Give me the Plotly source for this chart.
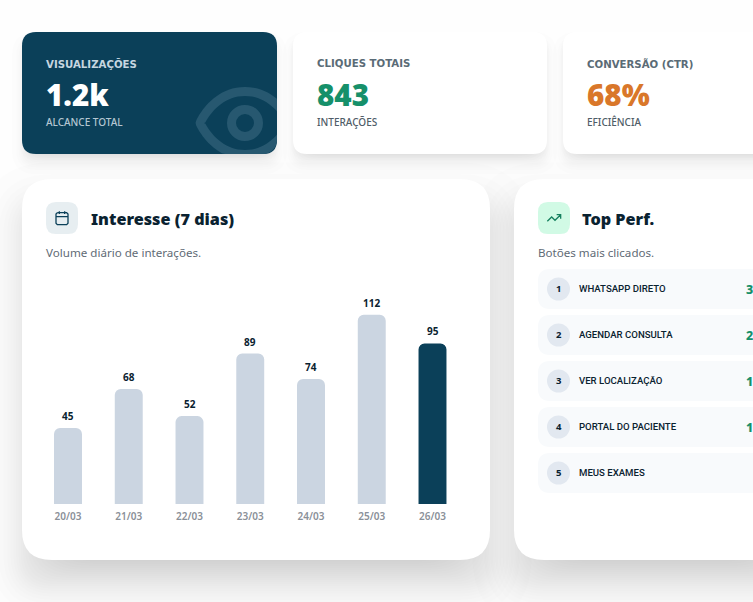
from statistics import NormalDist

import numpy as np
import plotly.graph_objects as go

W = 753
H = 602

# chart data
days = ["20/03", "21/03", "22/03", "23/03", "24/03", "25/03", "26/03"]
clicks = [45, 68, 52, 89, 74, 112, 95]
bar_colors = ["#cbd5e1"] * 6 + ["#0b4059"]

# kpi cards
kpi_titles = ["VISUALIZAÇÕES", "CLIQUES TOTAIS", "CONVERSÃO (CTR)"]
kpi_values = ["1.2k", "843", "68%"]
kpi_notes = ["ALCANCE TOTAL", "INTERAÇÕES", "EFICIÊNCIA"]

# ranking, only the first digit of the counts is inside the picture
rank_labels = ["WHATSAPP DIRETO", "AGENDAR CONSULTA", "VER LOCALIZAÇÃO", "PORTAL DO PACIENTE", "MEUS EXAMES"]
rank_counts = ["3", "2", "1", "1", ""]

FONT = "Noto Sans"
INK = "#0a2230"
GREY = "#5f6b76"


def px(x):
    return x / W


def py(y):
    return 1 - y / H


def rounded(x0, y0, x1, y1, r):
    return (
        f"M{px(x0 + r)},{py(y0)} L{px(x1 - r)},{py(y0)} Q{px(x1)},{py(y0)} {px(x1)},{py(y0 + r)} "
        f"L{px(x1)},{py(y1 - r)} Q{px(x1)},{py(y1)} {px(x1 - r)},{py(y1)} "
        f"L{px(x0 + r)},{py(y1)} Q{px(x0)},{py(y1)} {px(x0)},{py(y1 - r)} "
        f"L{px(x0)},{py(y0 + r)} Q{px(x0)},{py(y0)} {px(x0 + r)},{py(y0)} Z"
    )


shapes = []
notes = []


def box(x0, y0, x1, y1, r, color):
    shapes.append(dict(type="path", path=rounded(x0, y0, x1, y1, r), xref="paper", yref="paper",
                       fillcolor=color, line_width=0, layer="below"))


def shadow(x0, y0, x1, y1, r, dy, blur, spread, alpha):
    # css box-shadow faked with equal see-through layers at gaussian steps
    step = 2 / 255
    n = round(alpha / step)
    for i in range(n):
        e = spread + blur / 2 * NormalDist().inv_cdf(1 - (i + 0.5) / n)
        shapes.append(dict(type="path", path=rounded(x0 - e, y0 + dy - e, x1 + e, y1 + dy + e, max(r + abs(e), 6)),
                           xref="paper", yref="paper", fillcolor="#000000", opacity=step,
                           line_width=0, layer="below"))


def label(x, y, text, size, color, weight=400, family=FONT, anchor="left"):
    notes.append(dict(x=px(x), y=py(y), xref="paper", yref="paper", text=text, showarrow=False,
                      xanchor=anchor, yanchor="middle", borderpad=0, xshift=-1 if anchor == "left" else 0,
                      font=dict(family=family, size=size, color=color, weight=weight)))


def icon(cx, cy, size, lines, color, width):
    s = size / 24
    parts = []
    for line in lines:
        pts = [f"{px(cx + (a - 12) * s)},{py(cy + (b - 12) * s)}" for a, b in line]
        parts.append("M" + " L".join(pts))
    shapes.append(dict(type="path", path=" ".join(parts), xref="paper", yref="paper",
                       line=dict(color=color, width=width), layer="below"))


def eye_ring(cx, cy, s, clip):
    # lucide eye outline, thickened and cut to the card
    t = np.linspace(0, 1, 24)[:, None]
    p0, p1, p2, p3 = map(np.array, ([-10.0, 0], [-10.0, 0], [-7.0, -7], [0.0, -7]))
    curve = (1 - t) ** 3 * p0 + 3 * (1 - t) ** 2 * t * p1 + 3 * (1 - t) * t ** 2 * p2 + t ** 3 * p3
    quarter = curve[1:]
    top = np.vstack([quarter, quarter[::-1][1:] * [-1, 1]])
    loop = np.vstack([top, top[::-1][1:-1] * [1, -1]])
    d = np.roll(loop, -1, axis=0) - np.roll(loop, 1, axis=0)
    n = np.column_stack([d[:, 1], -d[:, 0]]) / np.hypot(d[:, 0], d[:, 1])[:, None]
    out = []
    for sign in (1, -1):
        ring = (loop + sign * n * 1.0) * s + [cx, cy]
        out.append(clip(ring))
    return out


def poly(points):
    return "M" + " L".join(f"{px(a)},{py(b)}" for a, b in points) + " Z"


def circle(cx, cy, r, color):
    shapes.append(dict(type="circle", xref="paper", yref="paper", x0=px(cx - r), x1=px(cx + r),
                       y0=py(cy - r), y1=py(cy + r), fillcolor=color, line_width=0, layer="below"))


# kpi cards
for x0, x1 in [(22, 277), (293, 547), (563, 800)]:
    shadow(x0, 32, x1, 154, 14, 10, 15, -3, 0.1)
    shadow(x0, 32, x1, 154, 14, 4, 6, -2, 0.05)
box(22, 32, 277, 154, 14, "#0b4059")
box(293, 32, 547, 154, 14, "#ffffff")
box(563, 32, 800, 154, 14, "#ffffff")


def clip_card(p):
    p = np.column_stack([np.clip(p[:, 0], 22, 277), np.clip(p[:, 1], 32, 154)])
    r = 14
    c = np.array([277 - r, 154 - r])
    v = p - c
    far = (v[:, 0] > 0) & (v[:, 1] > 0) & (np.hypot(v[:, 0], v[:, 1]) > r)
    p[far] = c + v[far] / np.hypot(v[far, 0], v[far, 1])[:, None] * r
    return p


outer, inner = eye_ring(245, 123, 4.5, clip_card)
shapes.append(dict(type="path", path=poly(outer) + " " + poly(inner[::-1]), xref="paper", yref="paper",
                   fillcolor="#275870", line_width=0, layer="below"))
shapes.append(dict(type="circle", xref="paper", yref="paper", x0=px(245 - 13.5), x1=px(245 + 13.5),
                   y0=py(123 - 13.5), y1=py(123 + 13.5), fillcolor="rgba(0,0,0,0)",
                   line=dict(color="#275870", width=9), layer="below"))

kpi_x = [46, 317, 587]
kpi_title_colors = ["#c6d6e0", "#5a6b76", "#5a6b76"]
kpi_value_colors = ["#ffffff", "#16906a", "#d9772a"]
kpi_note_colors = ["#b4c6d2", "#4f5d68", "#4f5d68"]
for i in range(3):
    label(kpi_x[i], 63.5, kpi_titles[i], 10.2, kpi_title_colors[i], 700, "DejaVu Sans")
    label(kpi_x[i], 95, kpi_values[i], 29.6, kpi_value_colors[i], 900)
    label(kpi_x[i], 122, kpi_notes[i], 10, kpi_note_colors[i], 500)

# big panels
shadow(22, 179, 490, 560, 30, 25, 50, -12, 0.25)
shadow(514, 179, 800, 560, 30, 25, 50, -12, 0.25)
box(22, 179, 490, 560, 30, "#ffffff")
box(514, 179, 800, 560, 30, "#ffffff")

box(46, 202, 78, 234, 10, "#e7eef1")
icon(62, 218, 16, [[(8, 2), (8, 6)], [(16, 2), (16, 6)], [(3, 10), (21, 10)],
                   [(5, 4), (19, 4), (21, 6), (21, 20), (19, 22), (5, 22), (3, 20), (3, 6), (5, 4)]],
     "#0b4059", 1.3)
label(91, 218.5, "Interesse (7 dias)", 16.2, INK, 900)
label(46, 253, "Volume diário de interações.", 11.6, GREY)

box(538, 202, 570, 234, 10, "#d1fae5")
icon(554, 218, 16, [[(22, 7), (13.5, 15.5), (8.5, 10.5), (2, 17)], [(16, 7), (22, 7), (22, 13)]],
     "#16805f", 1.3)
label(582, 218.5, "Top Perf.", 16.2, INK, 900)
label(538, 253, "Botões mais clicados.", 11.6, GREY)

for i in range(5):
    top = 269 + 46 * i
    box(538, top, 790, top + 40, 12, "#f8fafc")
    circle(558.5, top + 20, 11.5, "#e2e8f0")
    label(558.5, top + 19.5, str(i + 1), 9.5, INK, 700, anchor="center")
    label(579, top + 19.5, rank_labels[i], 9.6, INK, 500, "Roboto")
    if rank_counts[i]:
        label(746, top + 20, rank_counts[i], 12.5, "#16906a", 800)

# the bars go through the normal axes, the plot area is placed over the left panel
step = 60.75
first = 68
fig = go.Figure(go.Bar(x=days, y=clicks, marker=dict(color=bar_colors, line_width=0), cliponaxis=False))
for day, value in zip(days, clicks):
    notes.append(dict(x=day, y=value, xref="x", yref="y", text=str(value), showarrow=False, yanchor="bottom",
                      yshift=4, borderpad=0, font=dict(family=FONT, size=10, color=INK, weight=700)))
fig.update_xaxes(domain=[px(first - step / 2), px(first + 6.5 * step)], showgrid=False, zeroline=False,
                 showline=False, ticks="", ticklabelstandoff=5,
                 tickfont=dict(family=FONT, size=10, color="#8a9098", weight=600))
fig.update_yaxes(domain=[py(504), py(290)], range=[0, 214 / 1.69], visible=False)
fig.update_layout(width=W, height=H, margin=dict(l=0, r=0, t=0, b=0), showlegend=False,
                  paper_bgcolor="#fefefe", plot_bgcolor="rgba(0,0,0,0)",
                  bargap=0.54, barcornerradius=6, shapes=shapes, annotations=notes)

fig.write_html("out.html", config=dict(displayModeBar=False), post_script="document.body.style.margin='0';")
